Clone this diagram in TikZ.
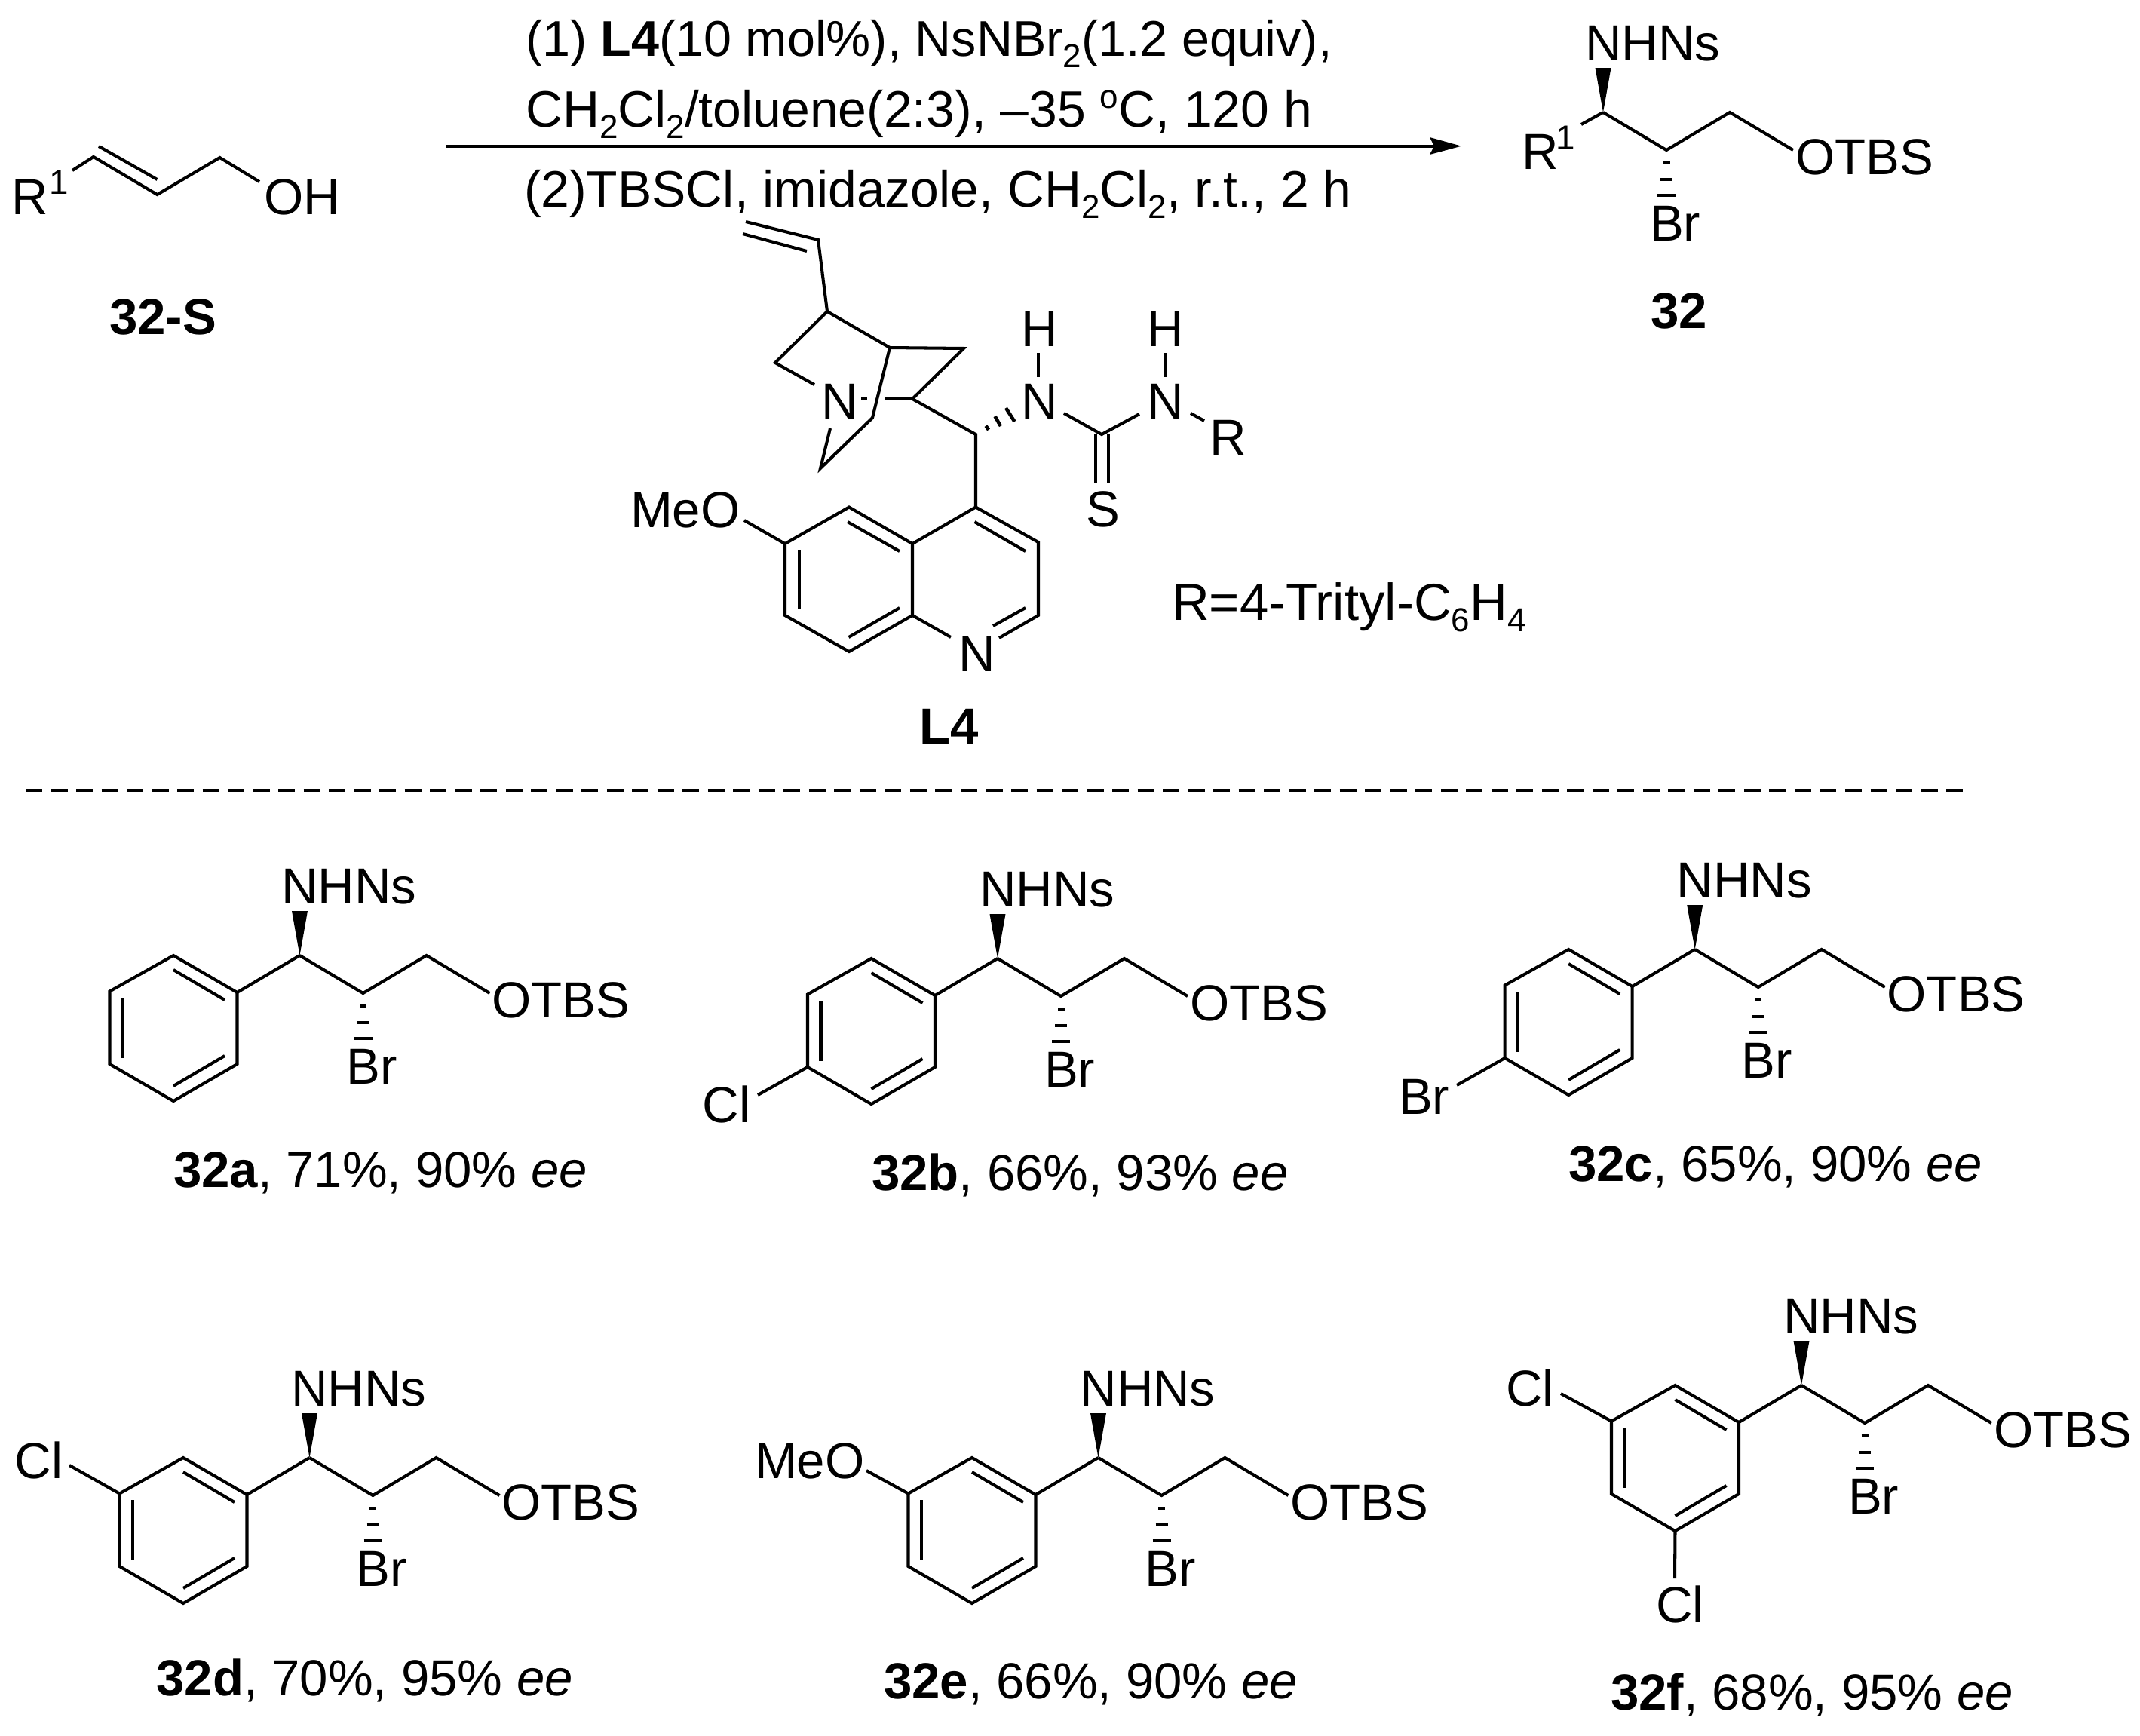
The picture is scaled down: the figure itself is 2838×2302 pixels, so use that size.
\documentclass[tikz,border=0pt]{standalone}
\usepackage{fontspec}
\setmainfont{Liberation Sans}
\newcommand{\chemfont}{\fontsize{19.1}{23}\selectfont}
\newcommand{\chsub}[1]{\raisebox{-4.3pt}{\fontsize{12.5}{14}\selectfont #1}}
\newcommand{\chsup}[1]{\raisebox{7pt}{\fontsize{12.5}{14}\selectfont #1}}
\tikzset{
  bond/.style={draw=black,line width=1.15pt,line join=miter,line cap=butt},
  lab/.style={anchor=base west,inner sep=0pt,outer sep=0pt,font=\chemfont,text=black},
  suplab/.style={anchor=base west,inner sep=0pt,outer sep=0pt,font=\fontsize{13}{15}\selectfont,text=black},
  wedge/.style={fill=black,draw=none},
  hashbar/.style={draw=black,line width=1.3pt,line cap=butt}
}
% common fragment: aryl/R carbon, chain, NHNs, OTBS, Br
\newcommand{\chainpart}[3]{%
  \begin{scope}[shift={(#2,#3)}]
    \coordinate (#1-ch) at (0,0);
    \coordinate (#1-c2) at (84,50);
    \coordinate (#1-c3) at (168,0);
    \coordinate (#1-o) at (252,50);
    \coordinate (#1-wl) at (-10.5,-59);
    \coordinate (#1-wr) at (10.5,-59);
    \node[lab] (#1-nh) at (-24,-69) {NHNs};
    \node[lab] (#1-otbs) at (255,82.5) {OTBS};
    \node[lab] (#1-br) at (62,170) {Br};
    \fill[wedge] (#1-ch) -- (#1-wl) -- (#1-wr) -- cycle;
    \draw[bond] (#1-ch) -- (#1-c2) -- (#1-c3) -- (#1-o);
    \draw[hashbar] (79.5,67) -- (88.5,67);
    \draw[hashbar] (76,89) -- (92,89);
    \draw[hashbar] (72,110) -- (96,110);
  \end{scope}}
\newcommand{\ringpart}[3]{%
  \begin{scope}[shift={(#2,#3)}]
    \coordinate (#1-r1) at (-83,49);
    \coordinate (#1-r2) at (-167.5,0);
    \coordinate (#1-r3) at (-252,47.5);
    \coordinate (#1-r4) at (-252,144);
    \coordinate (#1-r5) at (-167.5,193);
    \coordinate (#1-r6) at (-83,144);
    \draw[bond] (#1-ch) -- (#1-r1);
    \draw[bond] (#1-r1) -- (#1-r2) -- (#1-r3) -- (#1-r4) -- (#1-r5) -- (#1-r6) -- cycle;
    \draw[bond] (-167.5,19) -- (-99.5,59);
    \draw[bond] (-234.5,56) -- (-234.5,136);
    \draw[bond] (-167.5,173) -- (-99.5,133);
  \end{scope}}
\begin{document}
\begin{tikzpicture}[x=0.01cm,y=-0.01cm]
\useasboundingbox (0,0) rectangle (2838,2302);
\fill[white] (0,0) rectangle (2838,2302);

% --- 32-S
\coordinate (s1) at (124,208);
\coordinate (s2) at (208.5,258);
\coordinate (s3) at (291.5,209);
\coordinate (sR) at (96,226);
\coordinate (sO) at (344,241);
\coordinate (s1i) at (131,194);
\coordinate (s2i) at (208.5,238);
\node[lab] (sRl) at (15,284) {R};
\node[suplab] (sRs) at (65,257) {1};
\node[lab] (sOH) at (350,284) {OH};
\node[lab] (sname) at (145,443) {\bfseries 32-S};
\draw[bond] (sR) -- (s1) -- (s2) -- (s3) -- (sO);
\draw[bond] (s1i) -- (s2i);

% --- arrow and conditions
\coordinate (aS) at (592,194);
\coordinate (aE) at (1903,194);
\coordinate (aT) at (1938,193.7);
\draw[line width=1.4pt] (aS) -- (aE);
\fill[wedge] (aT) -- (1896,182) -- (1902,193.7) -- (1896,205) -- cycle;
\node[lab,font=\fontsize{18.9}{23}\selectfont] (cond1) at (697,74) {(1) {\bfseries L4}(10 mol\%), NsNBr\chsub{2}(1.2 equiv),};
\node[lab,font=\fontsize{19.3}{23}\selectfont] (cond2) at (697,168) {CH\chsub{2}Cl\chsub{2}/toluene(2:3), –35 \chsup{o}C, 120 h};
\node[lab,font=\fontsize{19.3}{23}\selectfont] (cond3) at (695,274) {(2)TBSCl, imidazole, CH\chsub{2}Cl\chsub{2}, r.t., 2 h};

% --- product 32
\chainpart{p}{2126}{149}
\coordinate (pR) at (2097,165);
\draw[bond] (p-ch) -- (pR);
\node[lab] (pRl) at (2018,224) {R};
\node[suplab] (pRs) at (2063,198) {1};
\node[lab] (pname) at (2189,435) {\bfseries 32};

% --- ligand L4
\coordinate (v1) at (989,294);
\coordinate (v2) at (1085,318);
\coordinate (v1i) at (985,310);
\coordinate (v2i) at (1070,333);
\coordinate (q1) at (1097,413);
\coordinate (q2) at (1028,481);
\coordinate (q2e) at (1080,510);
\coordinate (q3) at (1180,461);
\coordinate (q4) at (1278,462);
\coordinate (q5) at (1210,529);
\coordinate (q6) at (1157,554);
\coordinate (q7) at (1088,621);
\coordinate (q7e) at (1101,568);
\coordinate (qa) at (1142,529);
\coordinate (qb) at (1150,529);
\coordinate (qc) at (1174,529);
\coordinate (ch) at (1294,576);
\coordinate (c4) at (1294,672.5);
\coordinate (c4a) at (1210,721);
\coordinate (c8a) at (1210,816);
\coordinate (c5) at (1126,672.5);
\coordinate (c6) at (1041,721);
\coordinate (c7) at (1041,816);
\coordinate (c8) at (1126,864);
\coordinate (c2) at (1377,816);
\coordinate (c3) at (1377,719);
\coordinate (n1e) at (1261,845);
\coordinate (n2e) at (1325,846);
\coordinate (ome) at (987,690);
\node[lab] (lmeo) at (836,699) {MeO};
\node[lab] (lnq) at (1089,555.5) {N};
\node[lab] (ln1) at (1354,555.5) {N};
\node[lab] (lh1) at (1354,459) {H};
\node[lab] (ln2) at (1521,555.5) {N};
\node[lab] (lh2) at (1521,459) {H};
\node[lab] (lR) at (1604,603) {R};
\node[lab] (lS) at (1440,698) {S};
\node[lab] (lnq2) at (1271.5,890.6) {N};
\node[lab] (lname) at (1219,986) {\bfseries L4};
\node[lab,font=\fontsize{19.6}{23}\selectfont] (ltr) at (1554,822) {R=4-Trityl-C\chsub{6}H\chsub{4}};
\draw[bond] (v1) -- (v2) -- (q1) -- (q2) -- (q2e);
\draw[bond] (v1i) -- (v2i);
\draw[bond] (q1) -- (q3) -- (q4) -- (q5) -- (ch) -- (c4);
\draw[bond] (q3) -- (q6) -- (q7) -- (q7e);
\draw[bond] (qa) -- (qb);
\draw[bond] (qc) -- (q5);
\draw[bond] (c4) -- (c4a) -- (c8a) -- (n1e);
\draw[bond] (c4a) -- (c5) -- (c6) -- (c7) -- (c8) -- (c8a);
\draw[bond] (c4) -- (c3) -- (c2) -- (n2e);
\draw[bond] (1124,692) -- (1193,731);
\draw[bond] (1060,729) -- (1060,808);
\draw[bond] (1125.5,845) -- (1193,806);
\draw[bond] (1292.5,692) -- (1360,731);
\draw[bond] (1360,806) -- (1317,830);
\draw[bond] (ome) -- (c6);
% hashed bond to NH
\draw[hashbar] (1307.5,564.7) -- (1311,570);
\draw[hashbar] (1319.5,552) -- (1327,565);
\draw[hashbar] (1334,541) -- (1345.5,559);
% thiourea
\coordinate (cs) at (1461,576);
\coordinate (nb1) at (1411,548);
\coordinate (nb2) at (1511,549);
\coordinate (nr1) at (1579,548);
\coordinate (nr2) at (1597,558);
\draw[bond] (nb1) -- (cs) -- (nb2);
\draw[bond] (nr1) -- (nr2);
\draw[bond] (1453,576) -- (1453,641);
\draw[bond] (1470,576) -- (1470,641);
\draw[bond] (1377,468) -- (1377,499.5);
\draw[bond] (1545,468) -- (1545,499.5);

% --- dashed separator
\coordinate (dS) at (34,1048);
\coordinate (dE) at (2604,1048);
\draw[line width=1.4pt,dash pattern=on 6.26pt off 3.27pt] (dS) -- (dE);

% --- 32a
\chainpart{a}{397.5}{1267}
\ringpart{a}{397.5}{1267}
\node[lab] (acap) at (230,1574) {{\bfseries 32a}, 71\%, 90\% {\itshape ee}};

% --- 32b
\chainpart{b}{1323}{1271}
\ringpart{b}{1323}{1271}
\coordinate (bx) at (1005,1452);
\draw[bond] (b-r4) -- (bx);
\node[lab] (bcl) at (931.5,1488) {Cl};
\node[lab] (bcap) at (1156,1578) {{\bfseries 32b}, 66\%, 93\% {\itshape ee}};

% --- 32c
\chainpart{c}{2247.7}{1259}
\ringpart{c}{2247.7}{1259}
\coordinate (cx) at (1932,1439);
\draw[bond] (c-r4) -- (cx);
\node[lab] (cbr) at (1855,1477) {Br};
\node[lab] (ccap) at (2080,1566) {{\bfseries 32c}, 65\%, 90\% {\itshape ee}};

% --- 32d
\chainpart{d}{410.5}{1933}
\ringpart{d}{410.5}{1933}
\coordinate (dx) at (92,1943);
\draw[bond] (d-r3) -- (dx);
\node[lab] (dcl) at (20,1960) {Cl};
\node[lab] (dcap) at (207.5,2248) {{\bfseries 32d}, 70\%, 95\% {\itshape ee}};

% --- 32e
\chainpart{e}{1456.5}{1933}
\ringpart{e}{1456.5}{1933}
\coordinate (ex) at (1149,1950);
\draw[bond] (e-r3) -- (ex);
\node[lab] (emeo) at (1001,1960) {MeO};
\node[lab] (ecap) at (1172,2252) {{\bfseries 32e}, 66\%, 90\% {\itshape ee}};

% --- 32f
\chainpart{f}{2389}{1837}
\ringpart{f}{2389}{1837}
\coordinate (fx) at (2070,1848);
\coordinate (fy) at (2221,2093);
\draw[bond] (f-r3) -- (fx);
\draw[bond] (f-r5) -- (fy);
\node[lab] (fcl1) at (1997,1864) {Cl};
\node[lab] (fcl2) at (2196,2151) {Cl};
\node[lab] (fcap) at (2136,2267) {{\bfseries 32f}, 68\%, 95\% {\itshape ee}};
\end{tikzpicture}
\end{document}
